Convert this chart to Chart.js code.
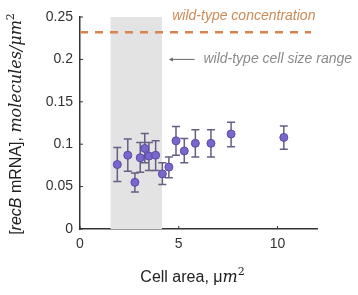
<!DOCTYPE html>
<html><head><meta charset="utf-8">
<script src="https://cdn.jsdelivr.net/npm/chart.js@4"></script>
<style>html,body{margin:0;padding:0;background:#fff}#wrap{width:358px;height:295px}</style>
</head><body><div id="wrap"><canvas id="c" width="358" height="295"></canvas></div>
<script>
// ---- data ----
const cellArea   = [1.89, 2.42, 2.78, 3.05, 3.28, 3.49, 3.83, 4.17, 4.50, 4.86, 5.28, 5.84, 6.63, 7.65, 10.32];
const recbConc   = [0.076, 0.087, 0.055, 0.084, 0.095, 0.086, 0.087, 0.065, 0.073, 0.104, 0.092, 0.101, 0.101, 0.112, 0.108];
const errLow     = [0.056, 0.068, 0.0435, 0.067, 0.078, 0.069, 0.069, 0.0526, 0.0605, 0.087, 0.078, 0.085, 0.085, 0.097, 0.094];
const errHigh    = [0.096, 0.106, 0.066, 0.102, 0.1125, 0.102, 0.104, 0.078, 0.085, 0.121, 0.1066, 0.117, 0.117, 0.126, 0.1215];
const wtConcentration = 0.232;
const wtConcLineX = [0, 11.7];
const wtSizeRange = [1.55, 4.15];
const xTicks = [0, 5, 10];
const yTicks = [0, 0.05, 0.1, 0.15, 0.2, 0.25];
const yTickLabels = ['0', '0.05', '0.1', '0.15', '0.2', '0.25'];
const xTickLabels = ['0', '5', '10'];

const SANS = '"Liberation Sans", Arial, sans-serif';
const SERIF = '"DejaVu Serif", "Liberation Serif", serif';

const extras = {
  id: 'extras',
  beforeDatasetsDraw(chart) {
    const {ctx, chartArea: a, scales: {x, y}} = chart;
    ctx.save();
    // grey wild-type size range
    const x0 = x.getPixelForValue(wtSizeRange[0]), x1 = x.getPixelForValue(wtSizeRange[1]);
    ctx.fillStyle = '#e3e3e3';
    ctx.fillRect(x0, a.top, x1 - x0, a.bottom - a.top);
    // error bars
    ctx.strokeStyle = '#675d85';
    ctx.lineWidth = 1.5;
    for (let i = 0; i < cellArea.length; i++) {
      const px = x.getPixelForValue(cellArea[i]);
      const lo = y.getPixelForValue(errLow[i]), hi = y.getPixelForValue(errHigh[i]);
      ctx.beginPath();
      ctx.moveTo(px, lo); ctx.lineTo(px, hi);
      ctx.moveTo(px - 4, lo); ctx.lineTo(px + 4, lo);
      ctx.moveTo(px - 4, hi); ctx.lineTo(px + 4, hi);
      ctx.stroke();
    }
    ctx.restore();
  },
  afterDraw(chart) {
    const {ctx, chartArea: a, scales: {x, y}} = chart;
    ctx.save();
    // inward tick marks
    ctx.strokeStyle = '#333'; ctx.lineWidth = 1;
    xTicks.forEach(v => { const p = x.getPixelForValue(v); ctx.beginPath(); ctx.moveTo(p, a.bottom); ctx.lineTo(p, a.bottom - 3); ctx.stroke(); });
    yTicks.forEach(v => { const p = y.getPixelForValue(v); ctx.beginPath(); ctx.moveTo(a.left, p); ctx.lineTo(a.left + 3, p); ctx.stroke(); });

    // annotations
    ctx.font = 'italic 14px ' + SANS;
    ctx.textBaseline = 'middle';
    ctx.textAlign = 'left';
    ctx.fillStyle = '#cc8a55';
    ctx.fillText('wild-type concentration', x.getPixelForValue(4.67), y.getPixelForValue(0.2505));
    ctx.fillStyle = '#8a8a8a';
    ctx.fillText('wild-type cell size range', x.getPixelForValue(6.25), y.getPixelForValue(0.2));
    // arrow
    const ay = y.getPixelForValue(0.2);
    const ax0 = x.getPixelForValue(4.5), ax1 = x.getPixelForValue(5.8);
    ctx.strokeStyle = '#666'; ctx.fillStyle = '#666'; ctx.lineWidth = 1;
    ctx.beginPath(); ctx.moveTo(ax0 + 2, ay); ctx.lineTo(ax1, ay); ctx.stroke();
    ctx.beginPath(); ctx.moveTo(ax0, ay); ctx.lineTo(ax0 + 4, ay - 2); ctx.lineTo(ax0 + 4, ay + 2); ctx.closePath(); ctx.fill();

    // x title: "Cell area, μm²"
    ctx.fillStyle = '#222';
    ctx.textBaseline = 'alphabetic';
    const parts = [
      {t: 'Cell area, μ', f: '16px ' + SANS, dy: 0},
      {t: 'm', f: 'italic 16px ' + SERIF, dy: 0},
      {t: '2', f: '11px ' + SERIF, dy: -7}
    ];
    let tw = 0;
    parts.forEach(p => { ctx.font = p.f; p.w = ctx.measureText(p.t).width; tw += p.w; });
    let cx = (a.left + a.right) / 2 - tw / 2 - 6;
    const by = 282;
    parts.forEach(p => { ctx.font = p.f; ctx.fillText(p.t, cx, by + p.dy); cx += p.w; });

    // y title: "[recB mRNA], molecules/μm²"
    const yparts = [
      {t: '[', f: '16px ' + SANS, dy: 0},
      {t: 'recB', f: 'italic 16px ' + SANS, dy: 0},
      {t: ' mRNA], ', f: '16px ' + SANS, dy: 0},
      {t: 'molecules/μm', f: 'italic 16px ' + SERIF, dy: 0},
      {t: '2', f: '11px ' + SERIF, dy: -7}
    ];
    let yw = 0;
    yparts.forEach(p => { ctx.font = p.f; p.w = ctx.measureText(p.t).width; yw += p.w; });
    ctx.translate(21, (a.top + a.bottom) / 2 + 1);
    ctx.rotate(-Math.PI / 2);
    let yx = -yw / 2;
    yparts.forEach(p => { ctx.font = p.f; ctx.fillText(p.t, yx, p.dy); yx += p.w; });
    ctx.restore();
  }
};

new Chart(document.getElementById('c'), {
  type: 'scatter',
  data: {
    datasets: [
      {
        label: 'recB',
        data: cellArea.map((v, i) => ({x: v, y: recbConc[i]})),
        backgroundColor: '#7a66cc',
        borderColor: '#5b4aa6',
        borderWidth: 1,
        pointRadius: 4,
        order: 1
      },
      {
        label: 'wild-type concentration',
        type: 'line',
        data: wtConcLineX.map(v => ({x: v, y: wtConcentration})),
        borderColor: '#d9834f',
        borderWidth: 2.5,
        borderDash: [8, 7],
        pointRadius: 0,
        fill: false,
        order: 2
      }
    ]
  },
  options: {
    responsive: false,
    animation: false,
    devicePixelRatio: 1,
    layout: {padding: {top: 17, right: 41, left: 0, bottom: 0}},
    plugins: {legend: {display: false}, tooltip: {enabled: false}},
    scales: {
      x: {
        type: 'linear', min: 0, max: 12,
        afterBuildTicks: s => { s.ticks = xTicks.map(v => ({value: v})); },
        afterFit: s => { s.height = 66; },
        grid: {display: false, drawTicks: false},
        border: {display: true, color: '#333', width: 1.5},
        ticks: {
          padding: 7, color: '#333', font: {family: SANS, size: 14},
          callback: (v) => xTickLabels[xTicks.indexOf(v)] ?? ''
        }
      },
      y: {
        type: 'linear', min: 0, max: 0.25,
        afterBuildTicks: s => { s.ticks = yTicks.map(v => ({value: v})); },
        afterFit: s => { s.width = 80; },
        grid: {display: false, drawTicks: false},
        border: {display: true, color: '#333', width: 1.5},
        ticks: {
          padding: 7, color: '#333', font: {family: SANS, size: 14},
          callback: (v) => { const i = yTicks.findIndex(t => Math.abs(t - v) < 1e-9); return i >= 0 ? yTickLabels[i] : ''; }
        }
      }
    }
  },
  plugins: [extras]
});
</script></body></html>
